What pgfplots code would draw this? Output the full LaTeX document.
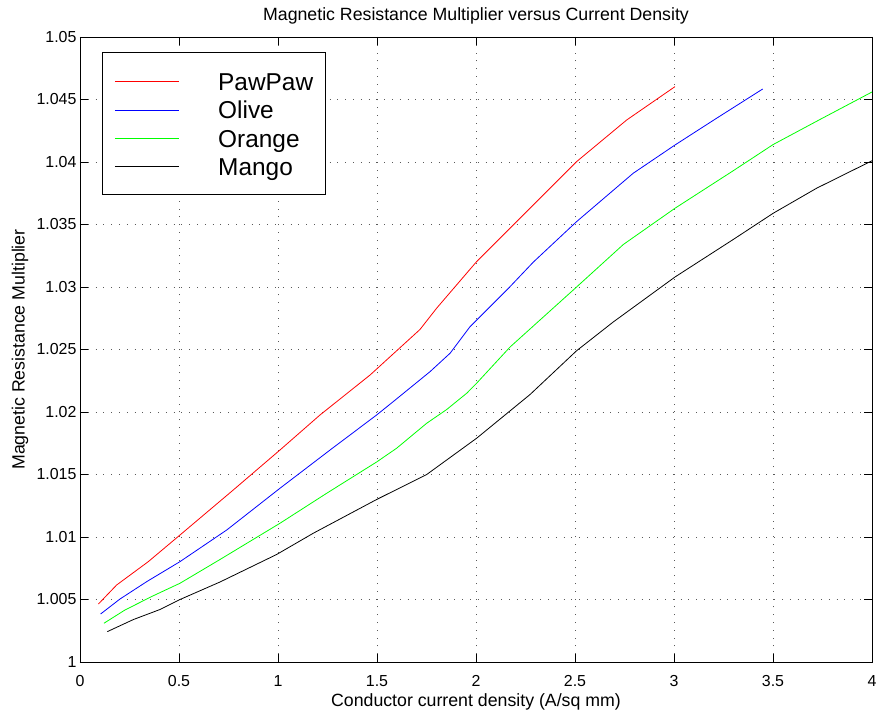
\documentclass[border=0pt]{standalone}
\usepackage{pgfplots}
\pgfplotsset{compat=1.18}
\usepackage{fontspec}
\setmainfont{Liberation Sans}
\begin{document}
\begin{tikzpicture}
\begin{axis}[
  name=ax,
  scale only axis,
  width=792bp, height=625bp,
  xmin=0, xmax=4, ymin=1, ymax=1.05,
  xtick={0,0.5,1,1.5,2,2.5,3,3.5,4},
  xticklabels={0,0.5,1,1.5,2,2.5,3,3.5,4},
  ytick={1,1.005,1.01,1.015,1.02,1.025,1.03,1.035,1.04,1.045,1.05},
  yticklabels={1,1.005,1.01,1.015,1.02,1.025,1.03,1.035,1.04,1.045,1.05},
  scaled y ticks=false, scaled x ticks=false,
  /pgf/number format/assume math mode=true,
  tick pos=both, tick align=inside,
  major tick length=8bp,
  tick style={black, line width=0.6pt},
  axis line style={black, line width=0.8pt},
  grid=major,
  major grid style={black!65, line width=0.7pt, dash pattern=on 1bp off 6.8bp},
  ticklabel style={font=\fontsize{16}{19}\selectfont},
  xticklabel style={anchor=base, yshift=-24.7bp},
  title={Magnetic Resistance Multiplier versus Current Density},
  title style={font=\fontsize{17.8}{21}\selectfont, at={(axis description cs:0.5,1.0176)}, anchor=base},
  xlabel={Conductor current density (A/sq mm)},
  xlabel style={font=\fontsize{17.8}{21}\selectfont, at={(axis description cs:0.5,-0.0715)}, anchor=base},
  ylabel={Magnetic Resistance Multiplier},
  ylabel style={font=\fontsize{17.8}{21}\selectfont, at={(axis description cs:-0.0758,0.5)}, anchor=center},
  legend style={at={(axis description cs:0.0278,0.976)}, anchor=north west,
    line width=0.8pt, fill=white,
    font=\fontsize{24.5}{28}\selectfont,
    inner xsep=12bp, inner ysep=14.3bp, row sep=0pt, column sep=39bp,
    nodes={inner sep=0pt, text height=24bp, text depth=4.3bp}},
  legend cell align=left,
  legend image code/.code={\draw[#1] (0bp,-1bp) -- (64bp,-1bp);},
]
\addplot[red, line width=0.8pt] coordinates {
(0.093,1.00464) (0.185,1.00616) (0.345,1.00803) (0.505,1.01016) (0.774,1.01376)
(1.01,1.01696) (1.212,1.01976) (1.465,1.02296) (1.717,1.0266) (1.801,1.0283)
(2.003,1.03203) (2.205,1.03523) (2.508,1.04003) (2.761,1.04336) (3.005,1.04603)};
\addlegendentry{PawPaw}
\addplot[blue, line width=0.8pt] coordinates {
(0.104,1.00384) (0.202,1.00504) (0.337,1.00643) (0.505,1.00803) (0.741,1.01056)
(1.01,1.0139) (1.263,1.01696) (1.498,1.01976) (1.582,1.02083) (1.768,1.02323)
(1.869,1.0247) (1.97,1.02683) (2.172,1.03003) (2.29,1.032) (2.508,1.03523)
(2.794,1.0391) (3.005,1.04136) (3.215,1.0435) (3.448,1.04584)};
\addlegendentry{Olive}
\addplot[green, line width=0.8pt] coordinates {
(0.121,1.0031) (0.227,1.00416) (0.37,1.0053) (0.505,1.0063) (0.707,1.0082)
(1.01,1.0111) (1.246,1.0135) (1.498,1.016) (1.599,1.0171) (1.751,1.0191)
(1.852,1.0202) (1.953,1.0215) (2.003,1.0223) (2.172,1.0252) (2.508,1.03)
(2.744,1.0334) (3.005,1.0363) (3.299,1.0393) (3.501,1.0414) (3.737,1.0434) (4.0,1.0456)};
\addlegendentry{Orange}
\addplot[black, line width=0.8pt] coordinates {
(0.138,1.00243) (0.27,1.0034) (0.404,1.0042) (0.505,1.005) (0.707,1.0064)
(0.993,1.0086) (1.178,1.0103) (1.498,1.013) (1.751,1.015) (2.003,1.0179)
(2.273,1.0214) (2.508,1.0249) (2.693,1.0272) (3.005,1.0308) (3.299,1.0338)
(3.501,1.0359) (3.72,1.0379) (4.0,1.0401)};
\addlegendentry{Mango}
\end{axis}
\pgfresetboundingbox
\path ([shift={(-80bp,-47bp)}]ax.south west) rectangle ([shift={(5bp,37bp)}]ax.north east);
\end{tikzpicture}
\end{document}
